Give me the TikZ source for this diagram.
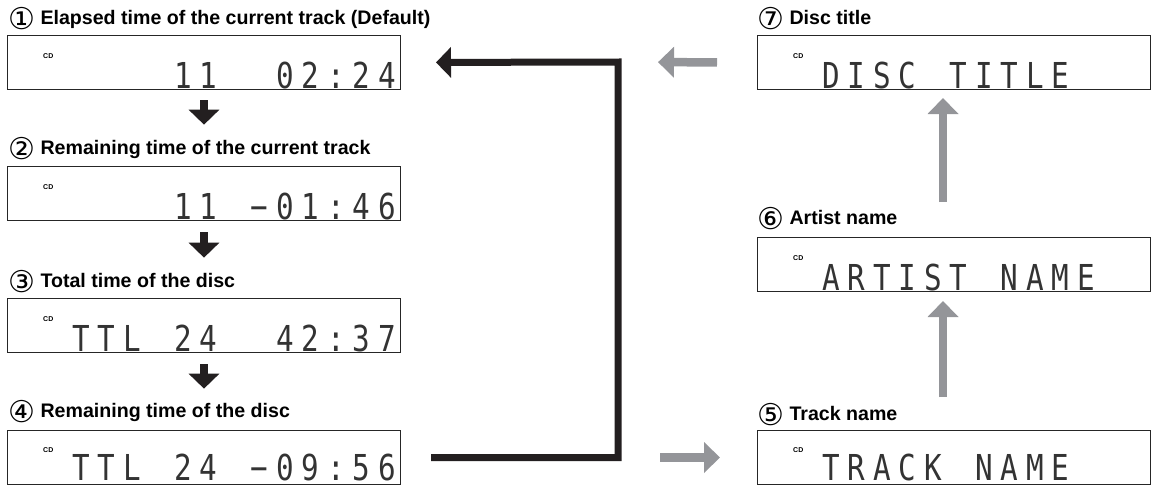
\documentclass[tikz,border=0pt]{standalone}
\usepackage{fontspec}
\setmainfont{Liberation Sans}
\newfontfamily\lcdfont{DejaVu Sans Mono}[FakeStretch=0.82]
\newfontfamily\circfont{DejaVu Sans}
\usetikzlibrary{arrows.meta,positioning}

\definecolor{inkblack}{RGB}{35,31,32}
\definecolor{arrowgrey}{RGB}{148,149,153}

% one fixed cell per display character, _ = empty cell
\newlength\lcdpitch
\setlength\lcdpitch{25.5pt}
\newcommand\lcdcell[1]{\ifx#1_\hspace*{\lcdpitch}\else\makebox[\lcdpitch][c]{#1}\fi}
\def\lcdrun#1{\ifx#1\relax\else\lcdcell{#1}\expandafter\lcdrun\fi}
\newcommand\lcd[1]{\lcdrun#1\relax}
% circled step number
\newcommand\stepno[1]{{\circfont\mdseries\fontsize{30}{30}\selectfont\raisebox{-5pt}{#1}}}

\tikzset{
  display/.style={draw=black!85, line width=1pt, minimum width=393pt,
                  minimum height=54pt, inner sep=0pt, anchor=north west},
  lcdtext/.style={font=\lcdfont\fontsize{35.7}{36}\selectfont, text=black!80,
                  inner sep=0pt, anchor=base west},
  cdmark/.style={font=\bfseries\fontsize{7}{7}\selectfont, inner sep=0pt, anchor=base west},
  caption/.style={font=\bfseries\fontsize{19.6}{20}\selectfont, inner sep=0pt, anchor=base west},
  downarrow/.style={inkblack, line width=8pt, -{Triangle[width=30pt,length=15pt]}},
  backline/.style={inkblack, line width=7pt, -{Triangle[width=30pt,length=15pt]}},
  greyarrow/.style={arrowgrey, line width=8.5pt, -{Triangle[width=30pt,length=16pt]}},
}

\begin{document}
\begin{tikzpicture}[x=1pt,y=-1pt]
\useasboundingbox (0,0) rectangle (1157,485);

% ============================================
% LEFT COLUMN – TIME DISPLAYS
% ============================================
        % Displays
        \node[display] (d1) at (7,35) {};
        \node[display] (d2) at (7,166) {};
        \node[display] (d3) at (7,298) {};
        \node[display] (d4) at (7,430) {};
        % Captions
        \node[caption] (t1) at ([xshift=1pt,yshift=11pt]d1.north west) {\stepno{①} Elapsed time of the current track (Default)};
        \node[caption] (t2) at ([xshift=1pt,yshift=12pt]d2.north west) {\stepno{②} Remaining time of the current track};
        \node[caption] (t3) at ([xshift=1pt,yshift=11pt]d3.north west) {\stepno{③} Total time of the disc};
        \node[caption] (t4) at ([xshift=1pt,yshift=13pt]d4.north west) {\stepno{④} Remaining time of the disc};
        % Display texts
        \node[cdmark] (c1) at ([xshift=36pt,yshift=-23pt]d1.north west) {CD};
        \node[cdmark] (c2) at ([xshift=36pt,yshift=-23pt]d2.north west) {CD};
        \node[cdmark] (c3) at ([xshift=36pt,yshift=-23pt]d3.north west) {CD};
        \node[cdmark] (c4) at ([xshift=36pt,yshift=-22pt]d4.north west) {CD};
        \node[lcdtext] (l1) at ([xshift=61pt,yshift=2pt]d1.south west) {\lcd{____11__02:24}};
        \node[lcdtext] (l2) at ([xshift=61pt,yshift=2pt]d2.south west) {\lcd{____11_−01:46}};
        \node[lcdtext] (l3) at ([xshift=61pt,yshift=2pt]d3.south west) {\lcd{TTL_24__42:37}};
        \node[lcdtext] (l4) at ([xshift=61pt,yshift=5pt]d4.south west) {\lcd{TTL_24_−09:56}};
        % Arrows down
        \draw[downarrow, shorten <=10pt, shorten >=12pt] (d1.south) -- (d1.south |- t2.north);
        \draw[downarrow, shorten <=11pt, shorten >=12pt] (d2.south) -- (d2.south |- t3.north);
        \draw[downarrow, shorten <=11pt, shorten >=11pt] (d3.south) -- (d3.south |- t4.north);

% ============================================
% RIGHT COLUMN – TEXT DISPLAYS
% ============================================
        % Displays
        \node[display] (d7) at (757,35) {};
        \node[display] (d6) at (757,237) {};
        \node[display] (d5) at (757,430) {};
        % Captions
        \node[caption] (t7) at ([yshift=11pt]d7.north west) {\stepno{⑦} Disc title};
        \node[caption] (t6) at ([yshift=13pt]d6.north west) {\stepno{⑥} Artist name};
        \node[caption] (t5) at ([yshift=10pt]d5.north west) {\stepno{⑤} Track name};
        % Display texts
        \node[cdmark] (c7) at ([xshift=36pt,yshift=-23pt]d7.north west) {CD};
        \node[cdmark] (c6) at ([xshift=36pt,yshift=-23pt]d6.north west) {CD};
        \node[cdmark] (c5) at ([xshift=36pt,yshift=-22pt]d5.north west) {CD};
        \node[lcdtext] (l7) at ([xshift=61pt,yshift=2pt]d7.south west) {\lcd{DISC_TITLE}};
        \node[lcdtext] (l6) at ([xshift=61pt,yshift=2pt]d6.south west) {\lcd{ARTIST_NAME}};
        \node[lcdtext] (l5) at ([xshift=61pt,yshift=5pt]d5.south west) {\lcd{TRACK_NAME}};
        % Arrows up
        \draw[greyarrow, shorten <=35pt, shorten >=8pt] ([xshift=-11pt]d6.north) -- ([xshift=-11pt]d7.south);
        \draw[greyarrow, shorten <=33pt, shorten >=9pt] ([xshift=-11pt]d5.north) -- ([xshift=-11pt]d6.south);

% ============================================
% Return line and side arrows
% ============================================
        \coordinate (turn) at (618,62);
        \coordinate (bend) at (turn |- d4.east);
        \draw[backline, shorten <=30pt, shorten >=35pt] (d4.east) -| (turn) -- (d1.east);
        \draw[greyarrow, shorten <=40pt, shorten >=40pt] (d7.west) -- (turn);
        \draw[greyarrow, shorten <=42pt, shorten >=37pt] (bend) -- (d5.west);
\end{tikzpicture}
\end{document}
